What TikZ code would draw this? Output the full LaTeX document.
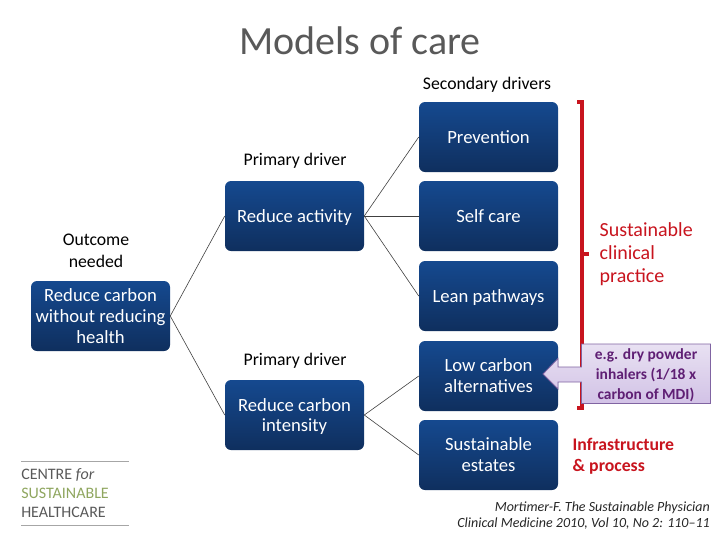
\documentclass[tikz,border=0pt]{standalone}
\usepackage{fontspec}
\usepackage{xcolor}
\setmainfont{Carlito}
\usetikzlibrary{arrows.meta,positioning,calc}
\definecolor{boxtop}{HTML}{15498F}
\definecolor{boxbot}{HTML}{0F2F5E}
\definecolor{bracketred}{HTML}{C8141E}
\definecolor{inhalerpurple}{HTML}{5F1F74}
\definecolor{calloutedge}{HTML}{8064A2}
\definecolor{callouttop}{HTML}{E8E1F2}
\definecolor{calloutbot}{HTML}{D2C2E6}
\definecolor{logogreen}{HTML}{8FA65F}
\newcommand{\droptext}{\rule{0pt}{12pt}}
\tikzset{
  driverbox/.style={rounded corners=4.5, top color=boxtop, bottom color=boxbot, draw=none, text=white,
    minimum width=104.25pt, minimum height=52.5pt, inner sep=0pt, align=center,
    font=\fontsize{14}{15.7}\selectfont},
  heading/.style={black, align=center, font=\fontsize{13.3}{16.5}\selectfont},
  link/.style={black!75, line width=0.45pt},
  redtext/.style={bracketred, align=left, font=\fontsize{15}{17}\selectfont},
  logotext/.style={anchor=west, inner sep=0pt, font=\fontsize{12}{14}\selectfont}
}
\begin{document}
\begin{tikzpicture}[x=0.75pt, y=-0.75pt]
\useasboundingbox (0,0) rectangle (720,540);
\node[black!65, font=\fontsize{30}{34}\selectfont] (title) at (360,41) {Models of care};
\node[heading] (secondary) at (487,84.5) {Secondary drivers};
\node[heading] (primarya) at (295,160.5) {Primary driver};
\node[heading] (primaryb) at (295,360.5) {Primary driver};
\node[heading] (outcomelabel) at (96,251) {Outcome\\ needed};
\node[driverbox] (outcome) at (100.5,316) {Reduce carbon\\ without reducing\\ health};
\node[driverbox] (activity) at (294.5,216) {\droptext Reduce activity};
\node[driverbox] (intensity) at (294.5,415) {\droptext Reduce carbon\\ intensity};
\node[driverbox] (prevention) at (488.5,137) {Prevention};
\node[driverbox] (selfcare) at (488.5,216) {Self care};
\node[driverbox] (lean) at (488.5,296) {\droptext Lean pathways};
\node[driverbox] (lowcarbon) at (488.5,376) {Low carbon\\ alternatives};
\node[driverbox] (estates) at (488.5,455) {Sustainable\\ estates};
\foreach \a/\b in {outcome/activity, outcome/intensity, activity/prevention, activity/selfcare, activity/lean, intensity/lowcarbon, intensity/estates}
  \draw[link] (\a.east) -- (\b.west);
\coordinate (brtopl) at (577,102);
\coordinate (brtopr) at (582,102);
\coordinate (brbotl) at (577,408);
\coordinate (brbotr) at (582,408);
\coordinate (brmidl) at (582,254);
\coordinate (brmidr) at (589,254);
\draw[bracketred, line width=2.3pt] (brtopl) -- (brtopr) -- (brbotr) -- (brbotl);
\draw[bracketred, line width=2.3pt] (brmidl) -- (brmidr);
\node[redtext, anchor=west] (sustainable) at (595,254) {Sustainable\\ clinical\\ practice};
\draw[draw=calloutedge, line width=0.6pt, top color=callouttop, bottom color=calloutbot]
  (581.5,344) -- (710.5,344) -- (710.5,403.5) -- (581.5,403.5) -- (581.5,382) -- (558,382) -- (558,389) -- (543,374) -- (558,358.5) -- (558,367) -- (581.5,367) -- cycle;
\node[inhalerpurple, align=center, font=\fontsize{11.6}{15}\bfseries\selectfont] (inhaler) at (646,375) {e.g. dry powder\\ inhalers (1/18 x\\ carbon of MDI)};
\node[redtext, font=\fontsize{13.3}{15.7}\bfseries\selectfont, anchor=west] (infra) at (568,456) {Infrastructure\\ \& process};
\node[black!85, align=right, anchor=east, inner xsep=0pt, font=\fontsize{10.5}{11.5}\itshape\selectfont] (citation) at (710,515.5) {Mortimer-F. The Sustainable Physician\\ Clinical Medicine 2010, Vol 10, No 2: 110--11};
\coordinate (logotopl) at (21,461.5);
\coordinate (logotopr) at (129,461.5);
\coordinate (logobotl) at (21,525);
\coordinate (logobotr) at (129,525);
\draw[black!35, line width=0.5pt] (logotopl) -- (logotopr);
\draw[black!35, line width=0.5pt] (logobotl) -- (logobotr);
\node[logotext, black!65] (logoa) at (21,474.5) {CENTRE \textit{for}};
\node[logotext, logogreen] (logob) at (21,493) {SUSTAINABLE};
\node[logotext, black!65] (logoc) at (21,512) {HEALTHCARE};
\end{tikzpicture}
\end{document}
